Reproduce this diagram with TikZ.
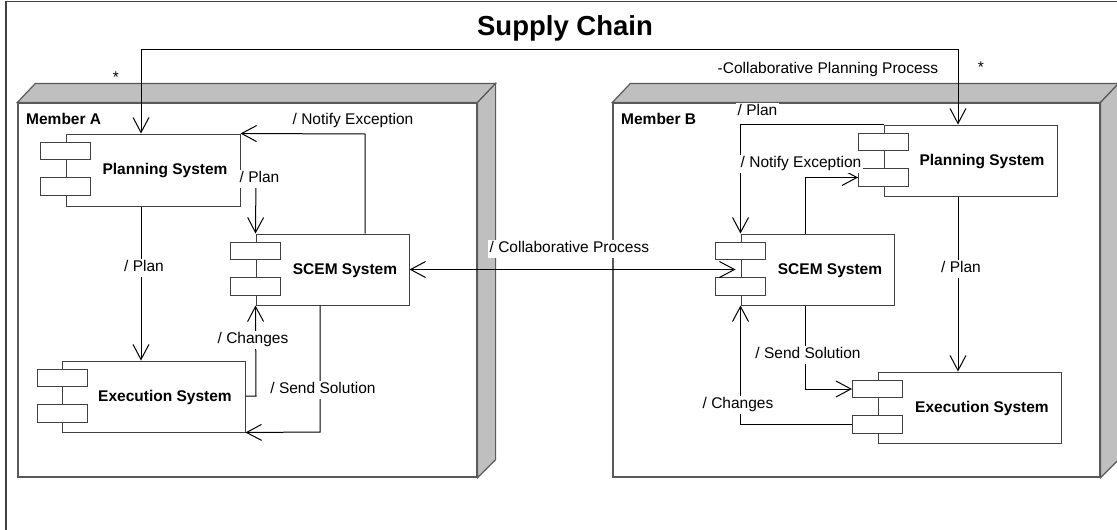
\documentclass[tikz,border=0pt]{standalone}
\usepackage{fontspec}
\setmainfont{Liberation Sans}
\usetikzlibrary{arrows.meta,calc}

\tikzset{
  frameline/.style={draw=black!75, line width=1.3pt},
  memberface/.style={draw=black!65, line width=1.2pt, fill=white, rectangle, inner sep=0pt},
  membershade/.style={draw=black!65, line width=1.2pt, fill=black!25, line join=miter},
  membertitle/.style={font=\fontsize{15.5}{18}\selectfont\bfseries, inner sep=0pt, anchor=base west},
  compbox/.style={draw=black!75, line width=1pt, fill=white, rectangle, inner sep=0pt},
  portbox/.style={compbox, minimum width=50pt, minimum height=17.5pt},
  comptext/.style={font=\fontsize{15.5}{18}\selectfont\bfseries, inner sep=0pt, anchor=base},
  barb/.tip={Straight Barb[length=15pt,width=16pt]},
  conn/.style={draw=black, line width=1pt, -barb},
  bothconn/.style={draw=black, line width=1pt, barb-barb},
  lbl/.style={font=\fontsize{15.5}{18}\selectfont, inner sep=1.5pt, text height=11.5pt, text depth=3.5pt, fill=white, anchor=base},
}

% component: name, left, top, right, bottom, text x, text
\newcommand{\compnode}[7]{%
  \node[compbox, minimum width={#4-#2}, minimum height={#5-#3}] (#1) at ({(#2+#4)/2},{(#3+#5)/2}) {};
  \node[portbox] (#1p1) at ($(#1.north west)+(0,17.5)$) {};
  \node[portbox] (#1p2) at ($(#1.north west)+(0,53)$) {};
  \node[comptext] (#1t) at (#6,{(#3+#5)/2+4.5}) {#7};
}

% 3D node box: name, left, top, right, bottom
\newcommand{\membernode}[5]{%
  \node[memberface, minimum width={#4-#2}, minimum height={#5-#3}] (#1) at ({(#2+#4)/2},{(#3+#5)/2}) {};
  \draw[membershade] (#1.north west) -- ++(18,-19) -- ($(#1.north east)+(18,-19)$) -- (#1.north east) -- cycle;
  \draw[membershade] (#1.north east) -- ++(18,-19) -- ($(#1.south east)+(18,-18)$) -- (#1.south east) -- cycle;
}

\begin{document}
\begin{tikzpicture}[x=1pt, y=-1pt]
  \useasboundingbox (0,0) rectangle (1117,530);
  \clip (0,0) rectangle (1117,530);

  % outer frame
  \draw[frameline] (6,1.5) rectangle (1140,560);
  \node[font=\fontsize{27.5}{32}\selectfont\bfseries, inner sep=0pt, anchor=base] (title) at (565,35.5) {Supply Chain};

  % members
  \membernode{memA}{18}{103}{477}{477}
  \membernode{memB}{613}{103}{1100}{477}
  \node[membertitle] (memAt) at (26,124.5) {Member A};
  \node[membertitle] (memBt) at (621,124.5) {Member B};

  % components of member A
  \compnode{psA}{66}{134}{240}{206}{165}{Planning System}
  \compnode{scemA}{256}{234}{409}{305}{345}{SCEM System}
  \compnode{esA}{62.5}{361}{245}{432}{165}{Execution System}

  % components of member B
  \compnode{psB}{884}{125}{1057}{196}{982}{Planning System}
  \compnode{scemB}{741}{234}{894}{305}{830}{SCEM System}
  \compnode{esB}{878}{372}{1061}{443}{982}{Execution System}

  % collaborative planning between both planning systems
  \coordinate (fbL) at (141,49);
  \coordinate (fbR) at (958,49);
  \draw[bothconn] (fbL |- psA.north) -- (fbL) -- (fbR) -- (fbR |- psB.north);
  \node[lbl, fill=none] (starA) at (116,82) {*};
  \node[lbl, fill=none] (starB) at (981,72) {*};
  \node[lbl, fill=none] (cpp) at (828,73.5) {-Collaborative Planning Process};

  % connectors inside member A
  \draw[conn] (fbL |- psA.south) -- (fbL |- esA.north);
  \coordinate (pA) at (256,177);
  \draw[conn] (psA.east |- pA) -- (pA) -- (scemA.north west);
  \coordinate (nA) at (365,134);
  \draw[conn] (scemA.north -| nA) -- (nA) -- (psA.north east);
  \coordinate (cA) at (256,396);
  \draw[conn] (esA.east |- cA) -- (cA) -- (scemA.south west);
  \coordinate (sA) at (320,432);
  \draw[conn] (scemA.south -| sA) -- (sA) -- (esA.south east);

  \node[lbl, fill=none] (lnA) at (353,124.5) {/ Notify Exception};
  \node[lbl, anchor=base west] (lpA2) at (238,182.5) {/ Plan};
  \node[lbl] (lpA1) at (144,271.5) {/ Plan};
  \node[lbl] (lcA) at (253,343.5) {/ Changes};
  \node[lbl] (lsA) at (323,393.5) {/ Send Solution};

  % collaboration between the SCEM systems
  \draw[bothconn, shorten >=5pt] (scemA.east) -- (scemA.east -| scemB.west);
  \node[lbl, anchor=base west] (lcp) at (488,252.5) {/ Collaborative Process};

  % connectors inside member B
  \draw[conn] (psB.north west) -- (scemB.north west |- psB.north west) -- (scemB.north west);
  \coordinate (nB) at (805,178);
  \draw[conn] (scemB.north -| nB) -- (nB |- psBp2.west) -- (psBp2.west);
  \draw[conn] (fbR |- psB.south) -- (fbR |- esB.north);
  \coordinate (sB) at (805,390);
  \draw[conn] (scemB.south -| sB) -- (sB |- esBp1.west) -- (esBp1.west);
  \draw[conn] (esBp2.west) -- (scemB.south west |- esBp2.west) -- (scemB.south west);

  \node[lbl, anchor=base west] (lpB1) at (736,115.5) {/ Plan};
  \node[lbl, anchor=base west] (lnB) at (739,167.5) {/ Notify Exception};
  \node[lbl] (lpB2) at (961,272.5) {/ Plan};
  \node[lbl] (lsB) at (808,358.5) {/ Send Solution};
  \node[lbl] (lcB) at (738,408.5) {/ Changes};
\end{tikzpicture}
\end{document}
